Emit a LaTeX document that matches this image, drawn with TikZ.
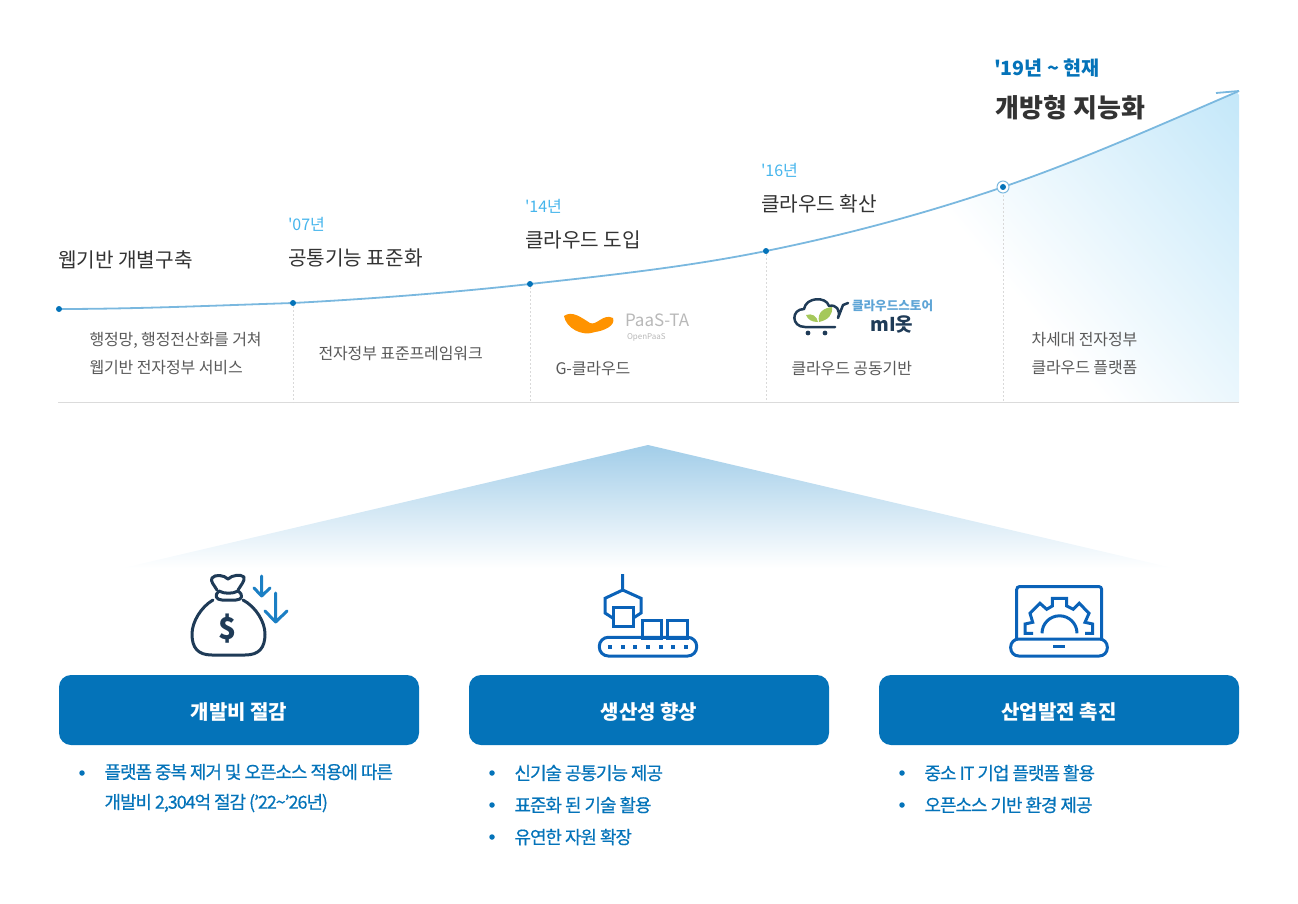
\documentclass[tikz,border=0pt]{standalone}
\usepackage{fontspec}
\usepackage{xcolor}
\setmainfont{Noto Sans CJK KR}
\newfontfamily\yearfont{Noto Sans CJK KR}
\newfontfamily\descfont[LetterSpace=-0.8]{Noto Sans CJK KR}
\newfontfamily\listfont[LetterSpace=-6,FakeBold=0.5]{Noto Sans CJK KR}
\definecolor{mainblue}{HTML}{0473B9}
\definecolor{curveblue}{HTML}{7AB8DF}
\definecolor{yearblue}{HTML}{46B5EC}
\definecolor{navy}{HTML}{1F3B57}
\definecolor{iconblue}{HTML}{0A62B8}
\definecolor{arrowblue}{HTML}{1B7FC4}
\definecolor{leafgreen}{HTML}{A5C85A}
\usetikzlibrary{arrows.meta,positioning,calc}

\begin{document}
\begin{tikzpicture}[x=1pt, y=-1pt, node distance=50pt, every node/.style={inner sep=0pt, outer sep=0pt},
title/.style={anchor=west, text=black!80, font=\fontsize{20.2}{24}\selectfont},
year/.style={anchor=west, text=yearblue, font=\yearfont\fontsize{16}{20}\selectfont},
desc/.style={anchor=west, align=left, text=black!65, font=\descfont\fontsize{16}{28}\selectfont},
dotnode/.style={circle, fill=mainblue, minimum size=6pt},
curve/.style={draw=curveblue, line width=1.8pt},
dashline/.style={draw=black!15, dash pattern=on 2pt off 2pt, line width=0.8pt},
btn/.style={rectangle, rounded corners=12pt, fill=mainblue, text=white, minimum width=360pt, minimum height=70pt, text height=18pt, text depth=0pt, font=\bfseries\fontsize{20}{24}\selectfont},
item/.style={anchor=west, align=left, text=mainblue, font=\listfont\fontsize{18}{30}\selectfont},
bullet/.style={circle, fill=mainblue, minimum size=5.5pt},
navyline/.style={draw=navy, line width=3pt, line cap=round, line join=round},
blueline/.style={draw=arrowblue, line width=3pt, line cap=round, line join=round},
iconline/.style={draw=iconblue, line width=3pt, line join=miter}]
\useasboundingbox (0,0) rectangle (1298,904);
\coordinate (p0) at (59,309); \coordinate (p1) at (293,303); \coordinate (p2) at (530,284); \coordinate (p3) at (766,251); \coordinate (p4) at (1003,187); \coordinate (p5) at (1239,91);
\coordinate (b0) at (58,402.5); \coordinate (b1) at (1239,402.5);
\begin{scope}
\clip (p3) .. controls +(79,-16) and +(-79,27) .. (p4) .. controls +(79,-27) and +(-79,34) .. (p5) -- (b1) -- (p3 |- b1) -- cycle;
\shade[transform canvas={shift={(1239,95)},rotate=-50}, top color=yearblue!32, bottom color=white] (-500,0) rectangle (500,300);
\end{scope}
\draw[draw=black!14, line width=1pt] (b0) -- (b1);
\draw[curve] (p0) .. controls +(78,0) and +(-78,2.5) .. (p1) .. controls +(79,-4.2) and +(-79,8.7) .. (p2) .. controls +(79,-8.7) and +(-79,16) .. (p3) .. controls +(79,-16) and +(-79,27) .. (p4) .. controls +(79,-27) and +(-79,34) .. (p5);
\coordinate (tip) at (1216,93); \draw[curve] (tip) -- (p5);
\node[dotnode] (d0) at (p0) {}; \node[dotnode] (d1) at (p1) {}; \node[dotnode] (d2) at (p2) {}; \node[dotnode] (d3) at (p3) {};
\draw[dashline] (d1) -- (d1 |- b0); \draw[dashline] (d2) -- (d2 |- b0); \draw[dashline] (d3) -- (d3 |- b0); \draw[dashline] (p4) -- (p4 |- b0);
\node[circle, draw=curveblue, fill=white, line width=1pt, minimum size=12pt] (d4) at (p4) {}; \node[dotnode] at (d4) {};
\node[title] (t0) at (58,260) {웹기반 개별구축};
\node[title] (t1) at (288,258) {공통기능 표준화};
\node[title] (t2) at (525,240) {클라우드 도입};
\node[title] (t3) at (761,204) {클라우드 확산};
\node[title, font=\bfseries\fontsize{26}{30}\selectfont] (t4) at (995.5,108) {개방형 지능화};
\node[year] (y1) at (288,224) {'07년};
\node[year] (y2) at (525,206) {'14년};
\node[year] (y3) at (761,170) {'16년};
\node[year, text=mainblue, font=\yearfont\bfseries\fontsize{19.6}{24}\selectfont] (y4) at (994,68) {'19년 \textasciitilde{} 현재};
\node[desc] (n0) at (89.5,354) {행정망, 행정전산화를 거쳐\\웹기반 전자정부 서비스};
\node[desc] (n1) at (318.5,354) {전자정부 표준프레임워크};
\node[desc] (n2) at (555.5,368.5) {G-클라우드};
\node[desc] (n3) at (791.5,368.5) {클라우드 공동기반};
\node[desc] (n4) at (1031.5,354) {차세대 전자정부\\클라우드 플랫폼};
\fill[orange!85!yellow] (564,316) .. controls (572,310) and (582,318) .. (590,323) .. controls (597,326) and (603,313) .. (613,318) .. controls (616,326) and (603,331) .. (595,332) .. controls (582,337) and (566,328) .. (564,316);
\node[anchor=west, text=black!28, font=\fontsize{17}{20}\selectfont] (paas) at (625,320) {PaaS-TA};
\node[anchor=west, text=black!28, font=\fontsize{8}{10}\selectfont] (open) at (627,337) {OpenPaaS};
\draw[draw=navy, line width=2.5pt, line cap=round, line join=round] (835,327) -- (805,327) .. controls (791,327) and (791,309) .. (804,309) .. controls (806,297) and (826,296) .. (829,306) .. controls (836,304) and (841,310) .. (838,318) -- (843,305) -- (848,303);
\fill[leafgreen] (819,322) .. controls (817,312) and (824,308) .. (832,307) .. controls (833,315) and (828,320) .. (819,322);
\fill[leafgreen] (818,322) .. controls (817,316) and (812,313) .. (806,315) .. controls (808,320) and (812,322) .. (818,322);
\fill[navy] (808,333) circle (2.4); \fill[navy] (825,333) circle (2.4);
\node[anchor=west, text=arrowblue!70, font=\bfseries\fontsize{12.6}{14}\selectfont] (store) at (852,306) {클라우드스토어};
\node[text=navy, font=\bfseries\fontsize{19}{22}\selectfont] (mio) at (892,324) {mI옷};
\shade[top color=curveblue!70, middle color=curveblue!16, bottom color=white] (648,445) -- (123,568) -- (1173,568) -- cycle;
\draw[navyline] (217,590) .. controls (214,585) and (210,581) .. (212,578) .. controls (215,574) and (224,575) .. (228,579) .. controls (232,575) and (241,574) .. (244,577) .. controls (245,581) and (241,585) .. (238,590);
\draw[navyline] (219,591) .. controls (214,595) and (216,600) .. (222,600) -- (236,600) .. controls (242,600) and (244,595) .. (238,591) .. controls (233,594) and (224,594) .. (219,591);
\draw[navyline] (213,600) .. controls (201,607) and (192,622) .. (192,634) .. controls (192,648) and (198,655) .. (212,655) -- (245,655) .. controls (259,655) and (265,648) .. (265,634) .. controls (265,622) and (256,607) .. (243,600);
\node[text=navy, font=\bfseries\fontsize{30}{30}\selectfont] (dollar) at (228,629) {\$};
\draw[blueline] (261.7,576) -- (261.7,596) (254,588) -- (261.7,596) -- (270,588);
\draw[blueline] (275.7,593) -- (275.7,622) (265,611) -- (275.7,622) -- (287,611);
\draw[iconline] (622.7,574) -- (622.7,590) (612.7,618) -- (605,613) -- (605,598.3) -- (622.7,590) -- (641,598.3) -- (641,613) -- (633.3,618);
\draw[iconline] (613.3,607.7) rectangle (633.3,626.7);
\draw[iconline] (642.7,620) rectangle (661.7,638);
\draw[iconline] (667.7,620) rectangle (687.3,638);
\draw[iconline, rounded corners=9pt] (599.3,637.3) rectangle (696.7,656);
\foreach \px in {610,622.7,635.3,648,660.7,673.3,685.7} \fill[iconblue] (\px-2,644.7) rectangle (\px+2,648.7);
\draw[iconline, rounded corners=3pt] (1016.7,639) -- (1016.7,586.5) -- (1101.7,586.5) -- (1101.7,639);
\draw[iconline, rounded corners=8pt] (1010.7,639) -- (1010.7,656) -- (1107.3,656) -- (1107.3,639) -- cycle;
\fill[iconblue] (1053,645) rectangle (1065,648);
\draw[iconline] (1033,633.3) -- (1025,633.3) -- (1025,624) -- (1032.7,622.3) -- (1030,613.3) -- (1040,603.3) -- (1046.7,609.3) -- (1052.3,606) -- (1052.3,598.3) -- (1066.7,598.3) -- (1066.7,606) -- (1073.3,609.3) -- (1079.3,603.3) -- (1089,613.3) -- (1085,622.3) -- (1092.7,624) -- (1092.7,633.3) -- (1085,633.3);
\draw[iconline] (1042,633.3) arc[start angle=180, end angle=360, radius=17.5];
\node[btn] (cost) at (239,710) {개발비 절감};
\node[btn, right=of cost] (prod) {생산성 향상};
\node[btn, right=of prod] (indu) {산업발전 촉진};
\node[bullet] (b00) at (82,773) {}; \node[bullet] (b10) at (492,773) {}; \node[bullet] (b11) at (492,805) {}; \node[bullet] (b12) at (492,837) {}; \node[bullet] (b20) at (902,773) {}; \node[bullet] (b21) at (902,805) {};
\node[item] (i00) at (104.5,788) {플랫폼 중복 제거 및 오픈소스 적용에 따른\\개발비 2,304억 절감 (’22\textasciitilde’26년)};
\node[item] (i10) at (514.5,773) {신기술 공통기능 제공};
\node[item] (i11) at (514.5,805) {표준화 된 기술 활용};
\node[item] (i12) at (514.5,837) {유연한 자원 확장};
\node[item] (i20) at (924.5,773) {중소 IT 기업 플랫폼 활용};
\node[item] (i21) at (924.5,805) {오픈소스 기반 환경 제공};
\end{tikzpicture}
\end{document}
